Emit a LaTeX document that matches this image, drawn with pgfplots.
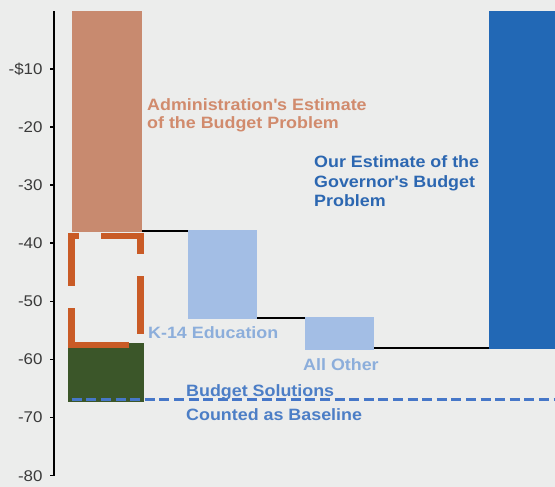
\documentclass[border=0pt]{standalone}
\usepackage{fontspec}
\setmainfont{Liberation Sans}[FakeStretch=1.09]
\usepackage{pgfplots}
\pgfplotsset{compat=1.18}
\usetikzlibrary{backgrounds,calc}
\definecolor{bgc}{HTML}{ECEDEC}
\definecolor{adminbar}{HTML}{C88A6F}
\definecolor{admintext}{HTML}{D18B6D}
\definecolor{orng}{HTML}{C95B26}
\definecolor{grn}{HTML}{3B5629}
\definecolor{ltblue}{HTML}{A3BEE5}
\definecolor{ltbluetext}{HTML}{8CAEDB}
\definecolor{dkblue}{HTML}{2268B5}
\definecolor{dkbluetext}{HTML}{2C67B1}
\definecolor{midblue}{HTML}{4C7EC6}
\definecolor{dashblue}{HTML}{4677C8}
\definecolor{tickgray}{HTML}{3A3A3A}
\begin{document}
\begin{tikzpicture}
\begin{axis}[
  scale only axis, width=500.7bp, height=464.8bp,
  xmin=54.3, xmax=555, ymin=-80, ymax=0,
  axis x line=none, axis y line*=left,
  y axis line style={line width=2bp, black},
  ytick={-80,-70,...,-10},
  yticklabels={-80,-70,-60,-50,-40,-30,-20,-\$10},
  tick align=outside, major tick length=4bp,
  ytick style={line width=1.6bp, black},
  yticklabel style={inner sep=0pt, xshift=-7.6bp, text=tickgray,
    font=\fontsize{15.5bp}{18bp}\selectfont},
  clip=true,
]
% connectors
\addplot[black, line width=2bp, mark=none] coordinates {(141.7,-37.9) (188.3,-37.9)};
\addplot[black, line width=2bp, mark=none] coordinates {(257,-52.8) (305,-52.8)};
\addplot[black, line width=2bp, mark=none] coordinates {(374,-58.1) (489,-58.1)};
% bars
\addplot[fill=adminbar, draw=none, mark=none] coordinates {(72,0) (141.7,0) (141.7,-38.0) (72,-38.0)} -- cycle;
\addplot[fill=ltblue, draw=none, mark=none] coordinates {(188.3,-37.7) (257,-37.7) (257,-53.0) (188.3,-53.0)} -- cycle;
\addplot[fill=ltblue, draw=none, mark=none] coordinates {(305,-52.6) (374,-52.6) (374,-58.4) (305,-58.4)} -- cycle;
\addplot[fill=dkblue, draw=none, mark=none] coordinates {(489,0) (560,0) (560,-58.2) (489,-58.2)} -- cycle;
\addplot[fill=grn, draw=none, mark=none] coordinates {(68.3,-57.2) (144,-57.2) (144,-67.4) (68.3,-67.4)} -- cycle;
% dashed orange rectangle
\addplot[orng, line width=6.5bp, mark=none, line join=miter,
  dash pattern=on 7.4bp off 22bp on 57.4bp off 22bp on 58bp off 22bp on 60bp off 20bp]
  coordinates {(71.6,-38.73) (140.3,-38.73) (140.3,-57.5) (71.6,-57.5)};
\addplot[orng, line width=6.5bp, mark=none,
  dash pattern=on 40bp off 22.3bp on 60bp off 20bp]
  coordinates {(71.6,-58.07) (71.6,-38.18)};
% baseline dashed
\addplot[dashblue, line width=3.5bp, mark=none, dash pattern=on 10bp off 4.6bp]
  coordinates {(71.7,-66.9) (555,-66.9)};
% texts
\node[anchor=base west, inner sep=0pt, text=admintext, font=\bfseries\fontsize{16.4bp}{19bp}\selectfont] at (axis cs:147,-17.06) {Administration\textquotesingle s Estimate};
\node[anchor=base west, inner sep=0pt, text=admintext, font=\bfseries\fontsize{16.4bp}{19bp}\selectfont] at (axis cs:147,-20.21) {of the Budget Problem};
\node[anchor=base west, inner sep=0pt, text=dkbluetext, font=\bfseries\fontsize{16.4bp}{19bp}\selectfont] at (axis cs:314,-26.99) {Our Estimate of the};
\node[anchor=base west, inner sep=0pt, text=dkbluetext, font=\bfseries\fontsize{16.4bp}{19bp}\selectfont] at (axis cs:314,-30.43) {Governor\textquotesingle s Budget};
\node[anchor=base west, inner sep=0pt, text=dkbluetext, font=\bfseries\fontsize{16.4bp}{19bp}\selectfont] at (axis cs:314,-33.70) {Problem};
\node[anchor=base west, inner sep=0pt, text=ltbluetext, font=\bfseries\fontsize{16.4bp}{19bp}\selectfont] at (axis cs:148,-56.45) {K-14 Education};
\node[anchor=base west, inner sep=0pt, text=ltbluetext, font=\bfseries\fontsize{16.4bp}{19bp}\selectfont] at (axis cs:303,-61.96) {All Other};
\node[anchor=base west, inner sep=0pt, text=midblue, font=\bfseries\fontsize{16.4bp}{19bp}\selectfont] at (axis cs:186,-66.44) {Budget Solutions};
\node[anchor=base west, inner sep=0pt, text=midblue, font=\bfseries\fontsize{16.4bp}{19bp}\selectfont] at (axis cs:186,-70.53) {Counted as Baseline};
\end{axis}
\begin{scope}[on background layer]
\fill[bgc] ($(current axis.south west)+(-54.3bp,-11.3bp)$) rectangle ($(current axis.north east)+(0bp,10.9bp)$);
\end{scope}
\end{tikzpicture}
\end{document}
